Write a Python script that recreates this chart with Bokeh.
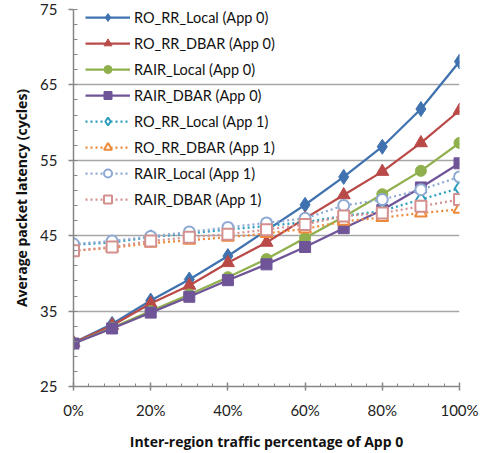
from bokeh.plotting import figure
from bokeh.models import Range1d, FixedTicker, Legend, LegendItem, CustomJSTickFormatter
from bokeh.embed import file_html
from bokeh.resources import INLINE

x_pct = [0, 10, 20, 30, 40, 50, 60, 70, 80, 90, 100]
x_ticks = [0, 20, 40, 60, 80, 100]
y_ticks = [25, 35, 45, 55, 65, 75]

ro_rr_local_app0 = [30.8, 33.3, 36.4, 39.2, 42.3, 45.7, 49.1, 52.8, 56.8, 61.8, 68.1]
ro_rr_dbar_app0 = [30.8, 33.1, 36.0, 38.4, 41.4, 44.1, 47.3, 50.4, 53.5, 57.3, 61.6]
rair_local_app0 = [30.7, 32.8, 35.0, 37.2, 39.5, 41.9, 44.7, 47.5, 50.5, 53.6, 57.3]
rair_dbar_app0 = [30.7, 32.7, 34.8, 36.9, 39.1, 41.2, 43.5, 46.0, 48.4, 51.4, 54.6]
ro_rr_local_app1 = [43.8, 44.1, 44.8, 45.3, 45.8, 46.3, 46.8, 47.6, 48.3, 49.8, 51.3]
ro_rr_dbar_app1 = [43.0, 43.4, 44.0, 44.4, 44.8, 45.3, 45.9, 46.9, 47.4, 48.0, 48.5]
rair_local_app1 = [43.9, 44.3, 44.9, 45.5, 46.1, 46.7, 47.3, 49.0, 49.8, 51.1, 52.8]
rair_dbar_app1 = [43.0, 43.5, 44.3, 44.8, 45.2, 45.8, 46.5, 47.6, 48.0, 48.9, 49.8]

series = [
    ("RO_RR_Local (App 0)", ro_rr_local_app0, "#3F72AF", "diamond", 15, True),
    ("RO_RR_DBAR (App 0)", ro_rr_dbar_app0, "#B94A48", "triangle", 13, True),
    ("RAIR_Local (App 0)", rair_local_app0, "#8FB04C", "circle", 11, True),
    ("RAIR_DBAR (App 0)", rair_dbar_app0, "#6F5598", "square", 11, True),
    ("RO_RR_Local (App 1)", ro_rr_local_app1, "#2E9EBD", "diamond", 14, False),
    ("RO_RR_DBAR (App 1)", ro_rr_dbar_app1, "#EC8A3A", "triangle", 12, False),
    ("RAIR_Local (App 1)", rair_local_app1, "#8EA9D3", "circle", 11, False),
    ("RAIR_DBAR (App 1)", rair_dbar_app1, "#D4908F", "square", 11, False),
]

FONT = "Lato"
TITLE_FONT = "Open Sans"

p = figure(width=493, height=453, output_backend="svg", toolbar_location=None,
           x_range=Range1d(0, 100), y_range=Range1d(25, 75),
           min_border_left=73, min_border_right=34, min_border_top=9, min_border_bottom=62)
p.outline_line_color = None
p.xgrid.grid_line_color = None
p.ygrid.grid_line_color = "#A6A6A6"
p.ygrid.grid_line_width = 1.5

p.xaxis.ticker = FixedTicker(ticks=x_ticks, minor_ticks=list(range(0, 101, 4)))
p.yaxis.ticker = FixedTicker(ticks=y_ticks, minor_ticks=list(range(25, 76, 2)))
p.xaxis.formatter = CustomJSTickFormatter(code="return tick.toFixed(0) + '%';")

for ax in (p.xaxis[0], p.yaxis[0]):
    ax.axis_line_color = "#868686"
    ax.axis_line_width = 1.5
    ax.major_tick_line_color = "#868686"
    ax.minor_tick_line_color = "#868686"
    ax.major_tick_line_width = 1.5
    ax.minor_tick_line_width = 1
    ax.major_label_text_font = FONT
    ax.major_label_text_font_size = "15px"
    ax.major_label_text_color = "#222222"
    ax.axis_label_text_font = TITLE_FONT
    ax.axis_label_text_font_size = "14px"
    ax.axis_label_text_font_style = "bold"
    ax.axis_label_text_color = "#111111"

p.xaxis.major_tick_in = 4
p.xaxis.major_tick_out = 4
p.xaxis.minor_tick_in = 3
p.xaxis.minor_tick_out = 0
p.xaxis.major_label_standoff = 10
p.xaxis.axis_label = "Inter-region traffic percentage of App 0"
p.xaxis.axis_label_standoff = 10

p.yaxis.major_tick_in = 0
p.yaxis.major_tick_out = 5
p.yaxis.minor_tick_in = 4
p.yaxis.minor_tick_out = 0
p.yaxis.major_label_standoff = 11
p.yaxis.axis_label = "Average packet latency (cycles)"
p.yaxis.axis_label_standoff = 6

items = []
for name, ys, color, marker, size, filled in series:
    if filled:
        l = p.line(x_pct, ys, line_color=color, line_width=2.25)
        s = p.scatter(x_pct, ys, marker=marker, size=size, fill_color=color, line_color=color, line_width=1)
    else:
        l = p.line(x_pct, ys, line_color=color, line_width=2.25, line_dash="2 3")
        s = p.scatter(x_pct, ys, marker=marker, size=size, fill_color="white", line_color=color, line_width=2)
    items.append(LegendItem(label=name, renderers=[l, s]))

legend = Legend(items=items, location=(12, 177))
legend.background_fill_alpha = 0
legend.border_line_alpha = 0
legend.margin = 0
legend.padding = 0
legend.glyph_width = 45
legend.glyph_height = 20
legend.label_height = 20
legend.spacing = 6
legend.label_standoff = 4
legend.label_text_font = FONT
legend.label_text_font_size = "14.5px"
legend.label_text_color = "#111111"
legend.click_policy = "none"
p.add_layout(legend, "center")

open("out.html", "w").write(file_html(p, INLINE))
